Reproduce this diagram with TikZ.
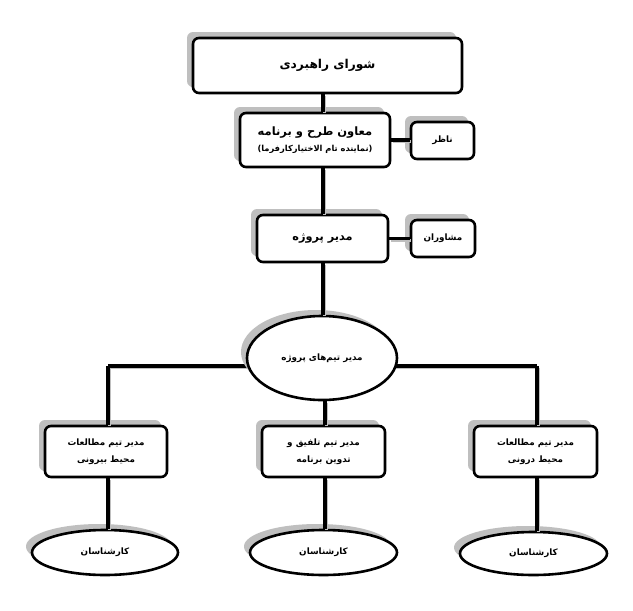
\documentclass[tikz,border=0pt]{standalone}
\usepackage{fontspec}
\newfontfamily\fa[Script=Arabic]{DejaVu Sans}
\TeXXeTstate=1
\usetikzlibrary{shadows,shapes.geometric}
\begin{document}
\begin{tikzpicture}[x=1pt,y=-1pt,
  shad/.style={general shadow={shadow xshift=-6pt,shadow yshift=6pt,fill=black!25}},
  box/.style={draw=black,line width=2.6pt,fill=white,rounded corners=6pt,inner sep=0pt,shad,align=center,
    font=\fa\bfseries\fontsize{8.8}{17}\selectfont},
  oval/.style={ellipse,draw=black,line width=2.6pt,fill=white,inner sep=0pt,shad,align=center,
    font=\fa\bfseries\fontsize{8.8}{17}\selectfont},
  conn/.style={line width=3.2pt,black,
    preaction={draw=black!25,line width=3.2pt,transform canvas={shift={(1.6pt,-1.6pt)}}}}]
\useasboundingbox (0,0) rectangle (633,611);
\fill[white] (0,0) rectangle (633,611);

% vertical / horizontal guide coordinates
\coordinate (xc) at (323,0);
\coordinate (hl) at (108,366);
\coordinate (hr) at (537,366);
\coordinate (xm) at (325,0);

% horizontal distribution line (behind the ellipse)
\draw[conn] (hl) -- (hr);

\node[box,minimum width=269pt,minimum height=55pt,font=\fa\bfseries\fontsize{12.2}{15}\selectfont] (top) at (327.5,65.5) {\beginR شورای راهبردی\endR};
\node[box,minimum width=150pt,minimum height=54pt] (vice) at (315,140)
  {{\fontsize{11.5}{14}\selectfont\beginR معاون طرح و برنامه\endR}\\[-1pt]
   {\fontsize{8.3}{10}\selectfont\beginR (نماینده تام الاختیارکارفرما)\endR}};
\node[box,minimum width=63pt,minimum height=37pt] (naz) at (442.5,140.5) {\beginR ناظر\endR};
\node[box,minimum width=131pt,minimum height=47pt,font=\fa\bfseries\fontsize{11.3}{14}\selectfont] (pm) at (322.5,238.5) {\beginR مدیر پروژه\endR};
\node[box,minimum width=64pt,minimum height=37pt] (mosh) at (443,238.5) {\beginR مشاوران\endR};
\node[oval,minimum width=150pt,minimum height=84pt] (tm) at (322,358) {\beginR مدیر تیم‌های پروژه\endR};

\node[box,minimum width=122pt,minimum height=51pt] (b1) at (106,451.5)
  {\beginR مدیر تیم مطالعات\endR\\\beginR محیط بیرونی\endR};
\node[box,minimum width=123pt,minimum height=51pt] (b2) at (323.5,451.5)
  {\beginR مدیر تیم تلفیق و\endR\\\beginR تدوین برنامه\endR};
\node[box,minimum width=123pt,minimum height=51pt] (b3) at (535.5,451.5)
  {\beginR مدیر تیم مطالعات\endR\\\beginR محیط درونی\endR};

\node[oval,minimum width=146pt,minimum height=45pt] (e1) at (105,552.5) {\beginR کارشناسان\endR};
\node[oval,minimum width=147pt,minimum height=45pt] (e2) at (323.5,552.5) {\beginR کارشناسان\endR};
\node[oval,minimum width=147pt,minimum height=43pt] (e3) at (533.5,553.5) {\beginR کارشناسان\endR};

% connectors
\draw[conn] (top.south -| xc) -- (vice.north -| xc);
\draw[conn] (vice.south -| xc) -- (pm.north -| xc);
\draw[conn] (pm.south -| xc) -- (tm.north -| xc);
\draw[conn] (vice.east) -- (naz.west |- vice.east);
\draw[conn] (pm.east) -- (mosh.west |- pm.east);
\draw[conn] (hl) -- (b1.north -| hl);
\draw[conn] (hr) -- (b3.north -| hr);
\draw[conn] (tm.south -| xm) -- (b2.north -| xm);
\draw[conn] (b1.south -| hl) -- (e1.north -| hl);
\draw[conn] (b2.south -| xm) -- (e2.north -| xm);
\draw[conn] (b3.south -| hr) -- (e3.north -| hr);
\end{tikzpicture}
\end{document}
